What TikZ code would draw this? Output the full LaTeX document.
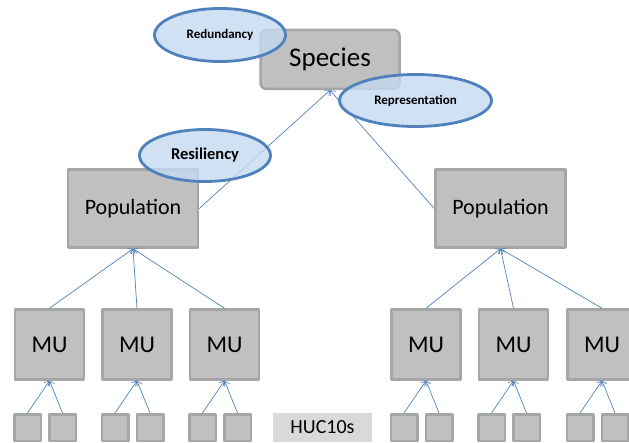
\documentclass[tikz,border=0pt]{standalone}
\usepackage{fontspec}
\setmainfont{Carlito}
\usetikzlibrary{arrows.meta,shapes.geometric}
\definecolor{boxgray}{RGB}{192,192,192}
\definecolor{boxedge}{RGB}{166,166,166}
\definecolor{hucgray}{RGB}{217,217,217}
\definecolor{ellblue}{RGB}{79,129,189}
\definecolor{ellfill}{RGB}{198,217,241}
\begin{document}
\begin{tikzpicture}[x=1pt,y=-1pt,line join=round,
	unit/.style={draw=boxedge,fill=boxgray,line width=2.5pt,inner sep=0pt},
	popbox/.style={unit,minimum width=130,minimum height=78,font=\fontsize{22}{26}\selectfont},
	mubox/.style={unit,minimum width=69,minimum height=70,font=\fontsize{24}{28}\selectfont},
	hucbox/.style={unit,minimum width=26.5,minimum height=26.5},
	crit/.style={ellipse,draw=ellblue,fill=ellfill,fill opacity=.8,text opacity=1,line width=2.8pt,inner sep=0pt,font=\bfseries},
	link/.style={draw=ellblue,line width=.7pt,-{Straight Barb[length=4pt,width=7pt]}}]
	\useasboundingbox (0,0) rectangle (629,443);
	\clip (0,0) rectangle (629,443);
	\node[unit,rounded corners=6pt,minimum width=139,minimum height=59,font=\fontsize{27}{32}\selectfont] (spec) at (330,59.5) {Species};
	\node[popbox] (popL) at (133,208.5) {Population};
	\node[popbox] (popR) at (500.5,208.5) {Population};
	\node[fill=hucgray,minimum width=99,minimum height=29,inner sep=0pt,font=\fontsize{20}{24}\selectfont] (huc) at (322.5,427.5) {HUC10s};
	\foreach \x [count=\i] in {49.5,137,224.5,426,513.5,602}{
		\node[mubox] (mu\i) at (\x,344.5) {MU};
		\path (mu\i) ++(-22,83) node[hucbox] (a\i) {};
		\path (mu\i) ++(13,83) node[hucbox] (b\i) {};
		\draw[link] (a\i.north) -- (mu\i.south);
		\draw[link] (b\i.north) -- (mu\i.south);
	}
	\foreach \i in {1,2,3} \draw[link] (mu\i.north) -- (popL.south);
	\foreach \i in {4,5,6} \draw[link] (mu\i.north) -- (popR.south);
	\draw[link] (popL.east) -- (spec.south);
	\draw[link] (popR.west) -- (spec.south);
	% criteria
	\node[crit,minimum width=131,minimum height=53,font=\bfseries\fontsize{13}{15}\selectfont] (red) at (220,35) {Redundancy};
	\node[crit,minimum width=152,minimum height=52,font=\bfseries\fontsize{13}{15}\selectfont] (rep) at (415.5,100.5) {Representation};
	\node[crit,minimum width=131,minimum height=52,font=\bfseries\fontsize{16.5}{19}\selectfont] (res) at (205,155.5) {Resiliency};
\end{tikzpicture}
\end{document}
